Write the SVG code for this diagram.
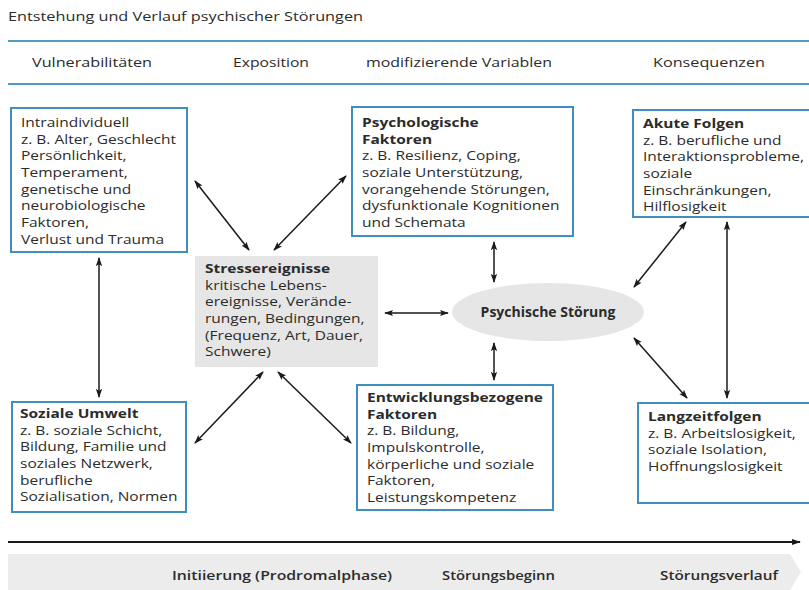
<svg xmlns="http://www.w3.org/2000/svg" width="809" height="590" viewBox="0 0 809 590">
<style>
text{font-family:"Open Sans","Noto Sans",sans-serif;fill:#2b2b2b}
.t{font-size:12px}
.h{font-size:13px}
.b{font-size:12.2px}
.bb{font-size:12.2px;font-weight:bold}
.box{fill:#fff;stroke:#3f8fbd;stroke-width:2}
.rule{stroke:#4f9cc1;stroke-width:2}
.c{stroke:#1a1a1a;stroke-width:1.5;fill:none;marker-start:url(#ah);marker-end:url(#ah)}
.ft{font-size:13px;font-weight:600}
</style>
<defs>
<marker id="ah" viewBox="0 0 10 10" refX="9" refY="5" markerWidth="9" markerHeight="9" orient="auto-start-reverse" markerUnits="userSpaceOnUse">
<path d="M0,1.5 L10,5 L0,8.5 L2,5 Z" fill="#1a1a1a"/>
</marker>
<marker id="ah2" viewBox="0 0 10 10" refX="9" refY="5" markerWidth="9" markerHeight="9" orient="auto" markerUnits="userSpaceOnUse">
<path d="M0,1.5 L10,5 L0,8.5 Z" fill="#1a1a1a"/>
</marker>
</defs>
<rect width="809" height="590" fill="#fff"/>
<g id="header">
<text class="t" x="8" y="21" textLength="355" lengthAdjust="spacingAndGlyphs">Entstehung und Verlauf psychischer Störungen</text>
<line class="rule" x1="8" y1="41" x2="809" y2="41"/>
<line class="rule" x1="8" y1="84" x2="809" y2="84"/>
<text class="h" x="32" y="67" textLength="120" lengthAdjust="spacingAndGlyphs">Vulnerabilitäten</text>
<text class="h" x="233" y="67" textLength="76" lengthAdjust="spacingAndGlyphs">Exposition</text>
<text class="h" x="366" y="67" textLength="186" lengthAdjust="spacingAndGlyphs">modifizierende Variablen</text>
<text class="h" x="653" y="67" textLength="112" lengthAdjust="spacingAndGlyphs">Konsequenzen</text>
</g>
<g id="intraindividuell">
<rect class="box" x="11" y="108" width="176" height="144"/>
<text class="b" transform="translate(21 127) scale(1.27 1)"><tspan x="0" y="0">Intraindividuell</tspan><tspan x="0" dy="16.7">z. B. Alter, Geschlecht</tspan><tspan x="0" dy="16.7">Persönlichkeit,</tspan><tspan x="0" dy="16.7">Temperament,</tspan><tspan x="0" dy="16.7">genetische und</tspan><tspan x="0" dy="16.7">neurobiologische</tspan><tspan x="0" dy="16.7">Faktoren,</tspan><tspan x="0" dy="16.7">Verlust und Trauma</tspan></text>
</g>
<g id="psychologische">
<rect class="box" x="352" y="107" width="221" height="129"/>
<text transform="translate(362 127) scale(1.27 1)"><tspan class="bb" x="0" y="0">Psychologische</tspan><tspan class="bb" x="0" dy="16.7">Faktoren</tspan><tspan class="b" x="0" dy="16.7">z. B. Resilienz, Coping,</tspan><tspan class="b" x="0" dy="16.7">soziale Unterstützung,</tspan><tspan class="b" x="0" dy="16.7">vorangehende Störungen,</tspan><tspan class="b" x="0" dy="16.7">dysfunktionale Kognitionen</tspan><tspan class="b" x="0" dy="16.7">und Schemata</tspan></text>
</g>
<g id="akute">
<rect class="box" x="633" y="110" width="180" height="107"/>
<text transform="translate(643 128) scale(1.27 1)"><tspan class="bb" x="0" y="0">Akute Folgen</tspan><tspan class="b" x="0" dy="16.7">z. B. berufliche und</tspan><tspan class="b" x="0" dy="16.7">Interaktionsprobleme,</tspan><tspan class="b" x="0" dy="16.7">soziale</tspan><tspan class="b" x="0" dy="16.7">Einschränkungen,</tspan><tspan class="b" x="0" dy="16.7">Hilflosigkeit</tspan></text>
</g>
<g id="stressereignisse">
<rect x="195" y="256" width="183" height="111" fill="#e6e6e6"/>
<text transform="translate(205 273) scale(1.27 1)"><tspan class="bb" x="0" y="0">Stressereignisse</tspan><tspan class="b" x="0" dy="16.7">kritische Lebens-</tspan><tspan class="b" x="0" dy="16.7">ereignisse, Verände-</tspan><tspan class="b" x="0" dy="16.7">rungen, Bedingungen,</tspan><tspan class="b" x="0" dy="16.7">(Frequenz, Art, Dauer,</tspan><tspan class="b" x="0" dy="16.7">Schwere)</tspan></text>
</g>
<g id="stoerung">
<ellipse cx="548" cy="312" rx="96" ry="29" fill="#e6e6e6"/>
<text x="548" y="317" text-anchor="middle" style="font-size:14px;font-weight:bold">Psychische Störung</text>
</g>
<g id="soziale">
<rect class="box" x="12" y="402" width="174" height="110"/>
<text transform="translate(20 418) scale(1.27 1)"><tspan class="bb" x="0" y="0">Soziale Umwelt</tspan><tspan class="b" x="0" dy="16.7">z. B. soziale Schicht,</tspan><tspan class="b" x="0" dy="16.7">Bildung, Familie und</tspan><tspan class="b" x="0" dy="16.7">soziales Netzwerk,</tspan><tspan class="b" x="0" dy="16.7">berufliche</tspan><tspan class="b" x="0" dy="16.7">Sozialisation, Normen</tspan></text>
</g>
<g id="entwicklung">
<rect class="box" x="357" y="385" width="196" height="125"/>
<text transform="translate(367 402) scale(1.27 1)"><tspan class="bb" x="0" y="0">Entwicklungsbezogene</tspan><tspan class="bb" x="0" dy="16.7">Faktoren</tspan><tspan class="b" x="0" dy="16.7">z. B. Bildung,</tspan><tspan class="b" x="0" dy="16.7">Impulskontrolle,</tspan><tspan class="b" x="0" dy="16.7">körperliche und soziale</tspan><tspan class="b" x="0" dy="16.7">Faktoren,</tspan><tspan class="b" x="0" dy="16.7">Leistungskompetenz</tspan></text>
</g>
<g id="langzeit">
<rect class="box" x="638" y="403" width="175" height="100"/>
<text transform="translate(648 421) scale(1.27 1)"><tspan class="bb" x="0" y="0">Langzeitfolgen</tspan><tspan class="b" x="0" dy="16.7">z. B. Arbeitslosigkeit,</tspan><tspan class="b" x="0" dy="16.7">soziale Isolation,</tspan><tspan class="b" x="0" dy="16.7">Hoffnungslosigkeit</tspan></text>
</g>
<g id="connectors">
<line class="c" x1="195" y1="181" x2="249" y2="250"/>
<line class="c" x1="346" y1="176" x2="274" y2="250"/>
<line class="c" x1="99" y1="258" x2="99" y2="397"/>
<line class="c" x1="263" y1="372" x2="195" y2="443"/>
<line class="c" x1="278" y1="372" x2="351" y2="443"/>
<line class="c" x1="385" y1="313" x2="448" y2="313"/>
<line class="c" x1="494" y1="242" x2="494" y2="282"/>
<line class="c" x1="494" y1="343" x2="494" y2="380"/>
<line class="c" x1="634" y1="287" x2="686" y2="222"/>
<line class="c" x1="634" y1="338" x2="687" y2="398"/>
<line class="c" x1="727" y1="222" x2="727" y2="398"/>
</g>
<g id="timeline">
<line x1="8" y1="542" x2="800" y2="542" stroke="#1a1a1a" stroke-width="2" marker-end="url(#ah2)"/>
<path d="M8,554 L790,554 L801,572 L790,590 L8,590 Z" fill="#ececec"/>
<text class="ft" x="172" y="580" textLength="220" lengthAdjust="spacingAndGlyphs">Initiierung (Prodromalphase)</text>
<text class="ft" x="442" y="580" textLength="113" lengthAdjust="spacingAndGlyphs">Störungsbeginn</text>
<text class="ft" x="660" y="580" textLength="118" lengthAdjust="spacingAndGlyphs">Störungsverlauf</text>
</g>
</svg>
